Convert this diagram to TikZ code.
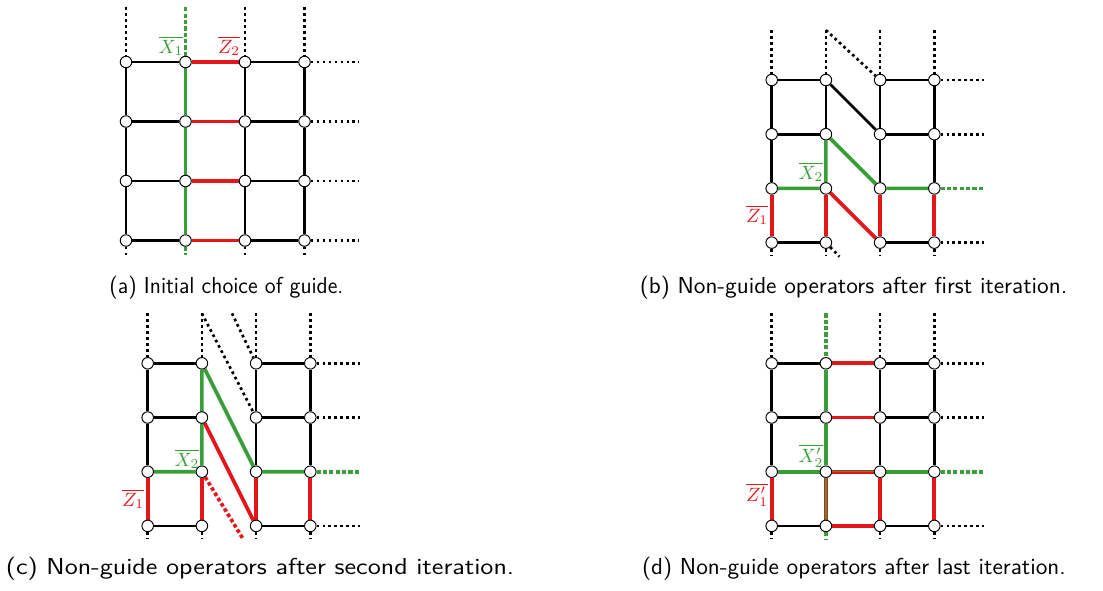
\documentclass[tikz,border=0pt]{standalone}
\usetikzlibrary{calc}

\definecolor{opgreen}{RGB}{56,158,56}
\definecolor{opred}{RGB}{228,22,26}

\pgfdeclarelayer{edges}
\pgfsetlayers{edges,main}

\tikzset{
  site/.style={circle, draw=black, fill=white, line width=0.5pt, inner sep=0pt, minimum size=6pt},
  bond/.style={line width=1.4pt, black},
  zop/.style={line width=1.9pt, opred},
  xop/.style={line width=1.9pt, opgreen},
  xinner/.style={line width=0.7pt, opgreen},
  open/.style={line width=1.4pt, black, dash pattern=on 1.4pt off 1.7pt},
  xopen/.style={line width=1.9pt, opgreen, dash pattern=on 2.2pt off 1.1pt},
  zopen/.style={line width=1.9pt, opred, dash pattern=on 1.9pt off 1.3pt},
  oplabel/.style={font=\fontsize{10}{11}\selectfont, inner sep=0pt},
  caption/.style={font=\sffamily\fontsize{12}{14}\selectfont, inner sep=0pt},
}

% 4x4 lattice of sites #1-i-j with open-boundary stub ends
% #1-i-0 (top), #1-i-5 (bottom), #1-5-j (right)
\newcommand\lattice[4]{%
  \foreach \i in {1,...,4}{%
    \foreach \j in {1,...,4}{%
      \node[site] (#1-\i-\j) at ({#2+(\i-1)*#4},{#3+(\j-1)*#4}) {};
    }%
    \coordinate (#1-\i-0) at ({#2+(\i-1)*#4},{#3-0.92*#4});
    \coordinate (#1-\i-5) at ({#2+(\i-1)*#4},{#3+3.24*#4});
    \coordinate (#1-5-\i) at ({#2+3.92*#4},{#3+(\i-1)*#4});
  }%
}

\begin{document}
\begin{tikzpicture}[x=0.52pt, y=-0.52pt]
\useasboundingbox (0,0) rectangle (1103,590);

% ---------------- (a) initial guide ----------------
\lattice{a}{126}{62}{59.5}
\begin{pgfonlayer}{edges}
  \foreach \j in {1,...,4}{
    \draw[bond] (a-1-\j) -- (a-2-\j) (a-3-\j) -- (a-4-\j);
    \draw[zop] (a-2-\j) -- (a-3-\j);
    \draw[open] (a-4-\j) -- (a-5-\j);
  }
  \foreach \i in {1,3,4}{
    \draw[bond] (a-\i-1) -- (a-\i-2) -- (a-\i-3) -- (a-\i-4);
    \draw[open] (a-\i-0) -- (a-\i-1) (a-\i-4) -- (a-\i-5);
  }
  \draw[xop] (a-2-1) -- (a-2-2) -- (a-2-3) -- (a-2-4);
  \draw[xopen] (a-2-0) -- (a-2-1) (a-2-4) -- (a-2-5);
\end{pgfonlayer}
\node[oplabel, text=opgreen] (a-x) at (171,46) {$\overline{X_1}$};
\node[oplabel, text=opred] (a-z) at (229,46) {$\overline{Z_2}$};
\node[caption] (cap-a) at (226.5,288) {\scalebox{0.96}[1]{(a) Initial choice of guide.}};

% ---------------- (b) first iteration ----------------
\lattice{b}{771.7}{80}{54.2}
\coordinate (b-tail) at ($(b-2-4)+(13.5,14)$);
\begin{pgfonlayer}{edges}
  \foreach \i in {1,...,4}{
    \draw[open] (b-\i-0) -- (b-\i-1) (b-\i-4) -- (b-\i-5);
    \draw[zop] (b-\i-3) -- (b-\i-4);
  }
  \foreach \j in {1,2,4}{
    \draw[bond] (b-1-\j) -- (b-2-\j) (b-3-\j) -- (b-4-\j);
    \draw[open] (b-4-\j) -- (b-5-\j);
  }
  \foreach \i in {1,3,4}{
    \draw[bond] (b-\i-1) -- (b-\i-2) -- (b-\i-3);
  }
  \draw[bond] (b-2-1) -- (b-2-2);
  \draw[bond] (b-2-1) -- (b-3-2);
  \draw[open] (b-2-0) -- (b-3-1);
  \draw[xop] (b-1-3) -- (b-2-3) -- (b-2-2) -- (b-3-3) -- (b-4-3);
  \draw[xopen] (b-4-3) -- (b-5-3);
  \draw[zop] (b-2-3) -- (b-3-4);
  \draw[open] (b-2-4) -- (b-tail);
\end{pgfonlayer}
\node[oplabel, text=opgreen] (b-x) at (811,172) {$\overline{X_2}$};
\node[oplabel, text=opred] (b-z) at (757,215) {$\overline{Z_1}$};
\node[caption] (cap-b) at (853.5,288) {\scalebox{1.03}[1]{(b) Non-guide operators after first iteration.}};

% ---------------- (c) second iteration ----------------
\lattice{c}{147.7}{363.3}{54.2}
\coordinate (c-far) at (232,313.4);
\coordinate (c-tail) at (243.3,539.3);
\begin{pgfonlayer}{edges}
  \foreach \i in {1,...,4}{
    \draw[open] (c-\i-0) -- (c-\i-1) (c-\i-4) -- (c-\i-5);
    \draw[zop] (c-\i-3) -- (c-\i-4);
  }
  \foreach \j in {1,2,4}{
    \draw[bond] (c-1-\j) -- (c-2-\j) (c-3-\j) -- (c-4-\j);
    \draw[open] (c-4-\j) -- (c-5-\j);
  }
  \foreach \i in {1,3,4}{
    \draw[bond] (c-\i-1) -- (c-\i-2) -- (c-\i-3);
  }
  \draw[open] (c-2-0) -- (c-3-2);
  \draw[open] (c-far) -- (c-3-1);
  \draw[xop] (c-1-3) -- (c-2-3) -- (c-2-1) -- (c-3-3) -- (c-4-3);
  \draw[xopen] (c-4-3) -- (c-5-3);
  \draw[zop] (c-2-2) -- (c-3-4);
  \draw[zopen] (c-2-3) -- (c-tail);
\end{pgfonlayer}
\node[oplabel, text=opgreen] (c-x) at (187,459) {$\overline{X_2}$};
\node[oplabel, text=opred] (c-z) at (133,499) {$\overline{Z_1}$};
\node[caption] (cap-c) at (260,569) {\scalebox{1.155}[1]{(c) Non-guide operators after second iteration.}};

% ---------------- (d) last iteration ----------------
\lattice{d}{771.7}{363.3}{54.2}
\begin{pgfonlayer}{edges}
  \foreach \i in {1,3,4}{
    \draw[open] (d-\i-0) -- (d-\i-1) (d-\i-4) -- (d-\i-5);
    \draw[bond] (d-\i-1) -- (d-\i-2) -- (d-\i-3);
    \draw[zop] (d-\i-3) -- (d-\i-4);
  }
  \foreach \j in {1,2,4}{
    \draw[bond] (d-1-\j) -- (d-2-\j) (d-3-\j) -- (d-4-\j);
    \draw[zop] (d-2-\j) -- (d-3-\j);
    \draw[open] (d-4-\j) -- (d-5-\j);
  }
  \draw[xop] (d-2-1) -- (d-2-2) -- (d-2-3);
  \draw[xop] (d-1-3) -- (d-2-3) (d-3-3) -- (d-4-3);
  \draw[xopen] (d-2-0) -- (d-2-1) (d-2-4) -- (d-2-5) (d-4-3) -- (d-5-3);
  % overlapping X and Z operators
  \draw[zop] (d-2-3) -- (d-3-3) (d-2-3) -- (d-2-4);
  \draw[xinner] (d-2-3) -- (d-3-3) (d-2-3) -- (d-2-4);
\end{pgfonlayer}
\node[oplabel, text=opgreen] (d-x) at (811,456) {$\overline{X'_2}$};
\node[oplabel, text=opred] (d-z) at (757,495) {$\overline{Z'_1}$};
\node[caption] (cap-d) at (854,569) {\scalebox{1.03}[1]{(d) Non-guide operators after last iteration.}};
\end{tikzpicture}
\end{document}
